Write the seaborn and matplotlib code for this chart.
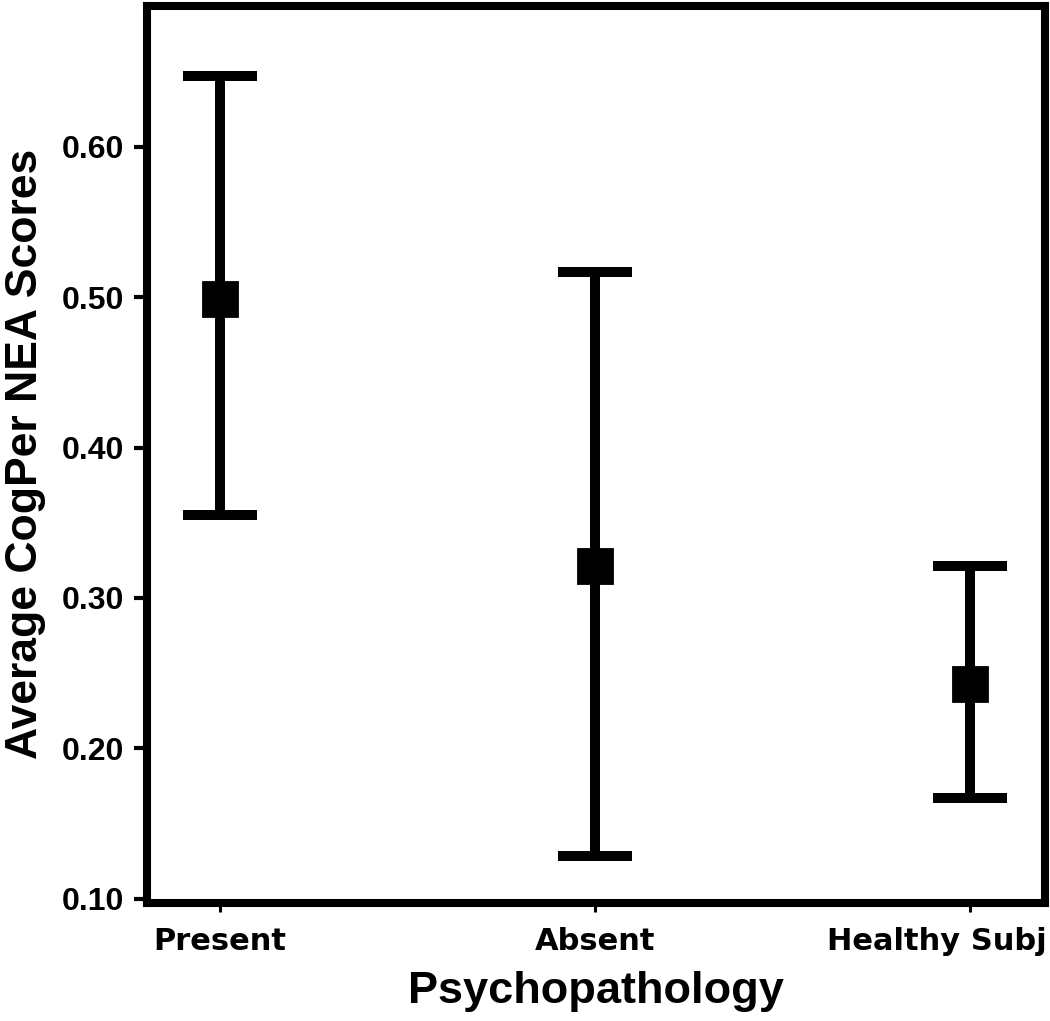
import matplotlib
matplotlib.use('Agg')
import matplotlib.pyplot as plt
import matplotlib.transforms as mtransforms
import numpy as np
import pandas as pd
import seaborn as sns

# values
groups = ['Present', 'Absent', 'Healthy Subj']
means = [0.499, 0.321, 0.243]
lower = [0.355, 0.128, 0.167]
upper = [0.647, 0.517, 0.321]
yticks = [0.10, 0.20, 0.30, 0.40, 0.50, 0.60]

# long table: lower / mean / upper per group, median picks the mean, min/max the bar
df = pd.DataFrame({
    'group': np.repeat(groups, 3),
    'score': np.column_stack([lower, means, upper]).ravel(),
})

plt.rcParams['font.family'] = ['Liberation Sans', 'DejaVu Sans']
plt.rcParams['font.weight'] = 'bold'

fig, ax = plt.subplots(figsize=(10.5, 10.21), dpi=100)
fig.subplots_adjust(left=0.140, right=0.995, top=0.994, bottom=0.116)

sns.pointplot(data=df, x='group', y='score', order=groups,
              estimator=np.median, errorbar=lambda s: (s.min(), s.max()),
              color='black', marker='s', markersize=25, linestyle='none',
              capsize=0.17, err_kws={'linewidth': 7.2}, ax=ax)

ax.set_xlim(-0.195, 2.2)
ax.set_ylim(0.0973, 0.6937)
ax.set_yticks(yticks)
ax.set_yticklabels([f'{v:.2f}' for v in yticks])

for s in ax.spines.values():
    s.set_linewidth(5.8)
    s.set_color('black')

ax.tick_params(axis='y', direction='out', length=9.5, width=3, pad=7,
               labelsize=23, left=True, colors='black')
ax.tick_params(axis='x', direction='out', length=6.5, width=2.2, pad=11,
               labelsize=22, bottom=True, colors='black')
for lbl in ax.get_xticklabels():
    lbl.set_family('DejaVu Sans')
    lbl.set_fontweight('bold')
# last category label runs up to the right edge of the figure
last = ax.get_xticklabels()[-1]
last.set_horizontalalignment('right')
last.set_transform(last.get_transform() +
                   mtransforms.ScaledTranslation(0.77, 0, fig.dpi_scale_trans))

ax.set_xlabel('Psychopathology', fontsize=32.5, fontweight='bold', labelpad=11)
ax.set_ylabel('Average CogPer NEA Scores', fontsize=32, fontweight='bold', labelpad=11)

fig.savefig('out.png', dpi=100)
